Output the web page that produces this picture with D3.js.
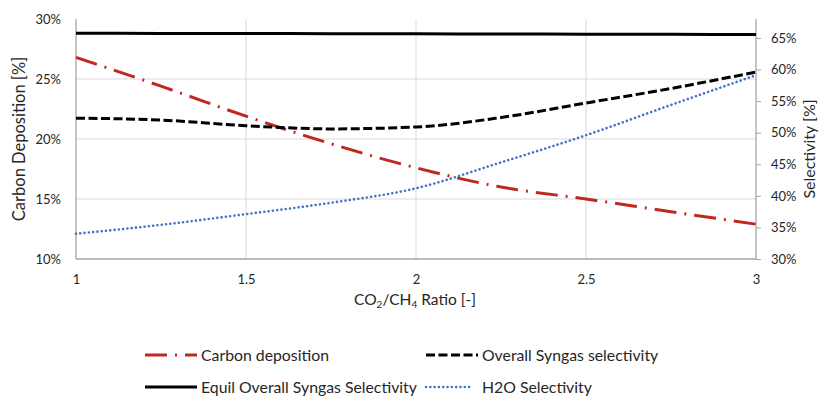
<!DOCTYPE html>
<html><head><meta charset="utf-8">
<script src="https://cdn.jsdelivr.net/npm/d3@7"></script>
<style>
body{margin:0;background:#fff;}
svg{display:block;font-family:Lato,"Open Sans",sans-serif;}
</style></head>
<body><svg id="c" width="819" height="397"></svg>
<script>
const ratios = [1, 1.25, 1.5, 1.75, 2, 2.25, 2.5, 2.75, 3];
const carbonDeposition = [0.268, 0.244, 0.219, 0.196, 0.176, 0.160, 0.150, 0.1394, 0.129];
const overallSyngas = [0.523, 0.520, 0.511, 0.506, 0.509, 0.524, 0.547, 0.570, 0.596];
const equilSyngas = [0.6575, 0.6572, 0.657, 0.6567, 0.6565, 0.6562, 0.656, 0.6557, 0.6555];
const h2oSelectivity = [0.340, 0.354, 0.371, 0.389, 0.412, 0.453, 0.496, 0.544, 0.591];
const xTicks = [1, 1.5, 2, 2.5, 3];
const leftTicks = [0.10, 0.15, 0.20, 0.25, 0.30];
const rightTicks = [0.30, 0.35, 0.40, 0.45, 0.50, 0.55, 0.60, 0.65];
const seriesNames = ["Carbon deposition", "Overall Syngas selectivity", "Equil Overall Syngas Selectivity", "H2O Selectivity"];

const svg = d3.select("#c");
const L = 76, R = 756, T = 19, B = 259;
const x = d3.scaleLinear().domain([1, 3]).range([L, R]);
const yL = d3.scaleLinear().domain([0.10, 0.30]).range([B, T]);
const yR = d3.scaleLinear().domain([0.30, 0.68]).range([B, T]);

// gridlines
const g = svg.append("g");
g.selectAll(".hg").data(leftTicks.filter(d => d > 0.10 && d < 0.30)).join("line")
  .attr("x1", L).attr("x2", R).attr("y1", d => yL(d)).attr("y2", d => yL(d))
  .attr("stroke", "#d9d9d9").attr("stroke-width", 1);
g.selectAll(".vg").data(xTicks.filter(d => d > 1 && d < 3)).join("line")
  .attr("y1", T).attr("y2", B).attr("x1", d => x(d)).attr("x2", d => x(d))
  .attr("stroke", "#d9d9d9").attr("stroke-width", 1);

// axes
const axL = svg.append("g").attr("transform", `translate(${L},0)`)
  .call(d3.axisLeft(yL).tickValues(leftTicks).tickSize(0).tickPadding(15).tickFormat(d3.format(".0%")));
const axR = svg.append("g").attr("transform", `translate(${R},0)`)
  .call(d3.axisRight(yR).tickValues(rightTicks).tickSize(5).tickPadding(10).tickFormat(d3.format(".0%")));
const axB = svg.append("g").attr("transform", `translate(0,${B})`)
  .call(d3.axisBottom(x).tickValues(xTicks).tickSize(0).tickPadding(16).tickFormat(d => String(d)));
[axL, axR, axB].forEach(a => {
  a.select(".domain").attr("stroke", "#a6a6a6").attr("stroke-width", 1.3);
  a.selectAll(".tick line").attr("stroke", "#a6a6a6");
  a.selectAll("text").attr("font-size", 13).attr("fill", "#262626").attr("font-family", "Lato");
});
axL.select(".domain").attr("d", `M0,${T}V${B}`);
axR.select(".domain").attr("d", `M0,${T}V${B}`);
axB.select(".domain").attr("d", `M${L},0H${R}`);

// lines
const styles = [
  {data: carbonDeposition, y: yL, color: "#c0281e", dash: "22,8,2,8", w: 3, cap: "butt"},
  {data: overallSyngas, y: yR, color: "#000", dash: "9,3.5", w: 3, cap: "butt"},
  {data: equilSyngas, y: yR, color: "#000", dash: null, w: 3, cap: "butt"},
  {data: h2oSelectivity, y: yR, color: "#4472c4", dash: "0.01,4.3", w: 2.6, cap: "round"}
];
styles.forEach(s => {
  const line = d3.line().x((d, i) => x(ratios[i])).y(d => s.y(d)).curve(d3.curveMonotoneX);
  svg.append("path").datum(s.data).attr("d", line).attr("fill", "none")
    .attr("stroke", s.color).attr("stroke-width", s.w).attr("stroke-dasharray", s.dash)
    .attr("stroke-linecap", s.cap);
});

// axis titles
svg.append("text").attr("transform", `translate(25,${(T + B) / 2}) rotate(-90)`)
  .attr("text-anchor", "middle").attr("font-size", 16.5).attr("fill", "#262626").text("Carbon Deposition [%]");
svg.append("text").attr("transform", `translate(815,${(T + B) / 2 + 10}) rotate(-90)`)
  .attr("text-anchor", "middle").attr("font-size", 16).attr("fill", "#262626").text("Selectivity [%]");
const xt = svg.append("text").attr("x", 415).attr("y", 305).attr("text-anchor", "middle")
  .attr("font-size", 15.5).attr("fill", "#262626");
xt.append("tspan").text("CO");
xt.append("tspan").attr("font-size", 10).attr("dy", 3).text("2");
xt.append("tspan").attr("dy", -3).text("/CH");
xt.append("tspan").attr("font-size", 10).attr("dy", 3).text("4");
xt.append("tspan").attr("dy", -3).text(" Ratio [-]");

// legend
const legPos = [[145, 355], [426, 355], [145, 387], [426, 387]];
styles.forEach((s, i) => {
  const [lx, ly] = legPos[i];
  svg.append("line").attr("x1", lx).attr("x2", lx + (i === 3 ? 47 : 52)).attr("y1", ly).attr("y2", ly)
    .attr("stroke", s.color).attr("stroke-width", s.w).attr("stroke-dasharray", s.dash)
    .attr("stroke-linecap", s.cap);
  svg.append("text").attr("x", lx + 56).attr("y", ly).attr("dy", "0.35em")
    .attr("font-size", 15.8).attr("fill", "#262626").text(seriesNames[i]);
});
</script></body></html>
